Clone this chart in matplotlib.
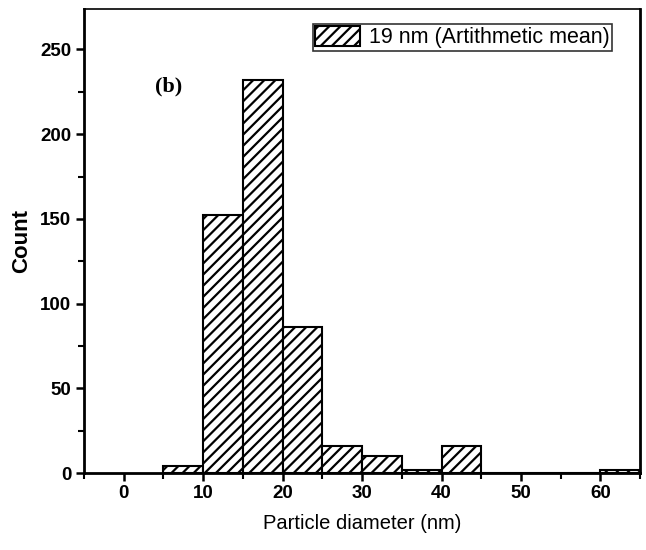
import numpy as np
import matplotlib
matplotlib.use("Agg")
import matplotlib.pyplot as plt

# histogram bins (nm) and counts
bin_left = [5, 10, 15, 20, 25, 30, 35, 40, 45, 50, 55, 60]
counts = [4, 152, 232, 86, 16, 10, 2, 16, 0, 0, 0, 2]
bin_width = 5
legend_label = "19 nm (Artithmetic mean)"

plt.rcParams['font.family'] = ['Liberation Sans', 'DejaVu Sans']
plt.rcParams['hatch.linewidth'] = 1.6

fig = plt.figure(figsize=(6.46, 5.5), dpi=100)
ax = fig.add_axes([0.130, 0.14, 0.861, 0.844])

ax.bar(bin_left, counts, width=bin_width, align='edge', color='white',
       edgecolor='black', linewidth=1.5, hatch='///', label=legend_label)

ax.set_xlim(-5, 65)
ax.set_ylim(0, 274)
ax.set_xticks(np.arange(0, 61, 10))
ax.set_xticks(np.arange(-5, 66, 10), minor=True)
ax.set_yticks(np.arange(0, 251, 50))
ax.set_yticks(np.arange(25, 275, 50), minor=True)
ax.tick_params(which='major', direction='out', length=6, width=1.8,
               labelsize=13.5, pad=3)
ax.tick_params(which='minor', direction='out', length=4, width=1.5)
for lab in ax.get_xticklabels() + ax.get_yticklabels():
    lab.set_fontweight('bold')

for side in ['left', 'bottom', 'right']:
    ax.spines[side].set_linewidth(2)
ax.spines['top'].set_linewidth(1.2)

ax.set_xlabel("Particle diameter (nm)", fontsize=14.5, labelpad=8)
ax.set_ylabel("Count", fontsize=16, fontweight='bold', labelpad=6)

ax.text(3.9, 225, "(b)", family='Liberation Serif', fontweight='bold',
        fontsize=16, va='baseline')

leg = ax.legend(loc='upper right', bbox_to_anchor=(0.950, 0.968), fontsize=15.5,
                frameon=True, fancybox=False, edgecolor='black', handlelength=2.1,
                handleheight=1.0, borderpad=0.12, handletextpad=0.4,
                borderaxespad=0)
leg.get_frame().set_linewidth(1.2)

fig.savefig("out.png", dpi=100)
